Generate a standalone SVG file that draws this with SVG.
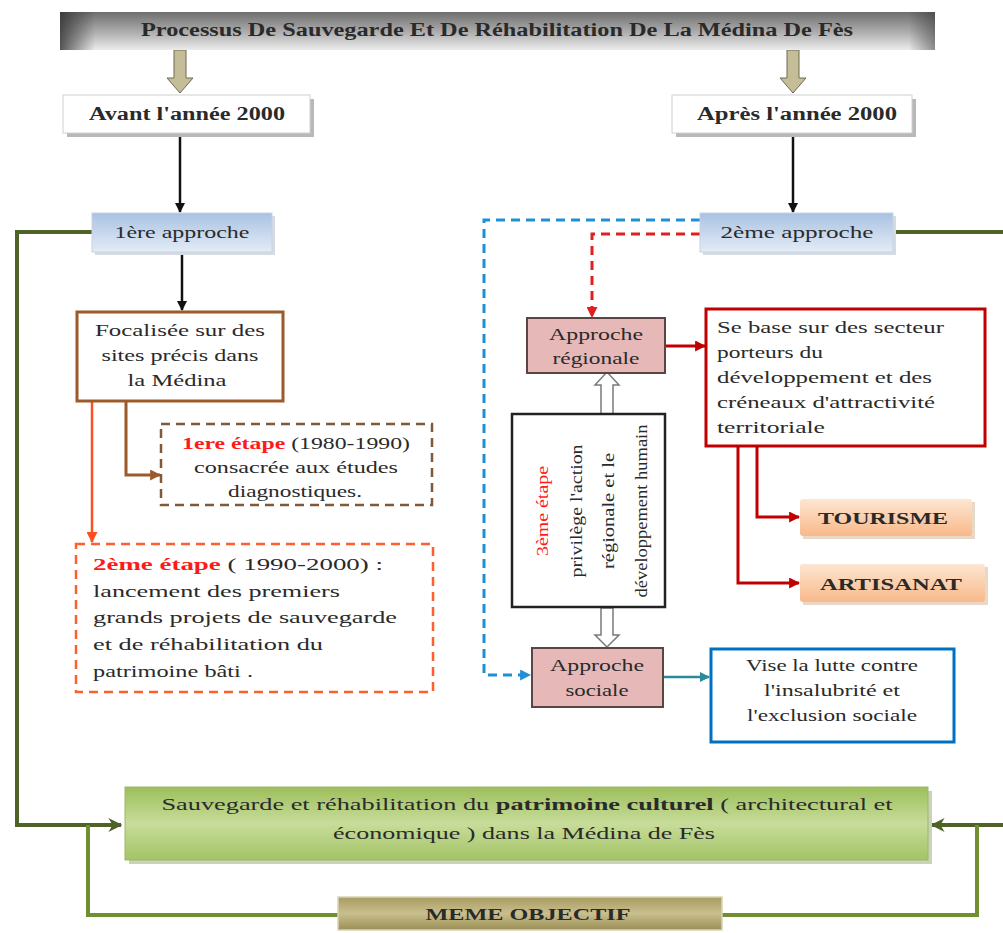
<svg xmlns="http://www.w3.org/2000/svg" width="1003" height="933" viewBox="0 0 1003 933">
<defs>
<style>
text{font-family:"Liberation Serif","Times New Roman",serif;fill:#2a2a2a;}
.b{font-weight:bold;}
.t16{font-size:17px;}
.red{fill:#ff1a1a;font-weight:bold;}
.conn{fill:none;}
</style>
<linearGradient id="gTitle" x1="0" y1="0" x2="0" y2="1">
<stop offset="0" stop-color="#6e6e6e"/><stop offset="0.55" stop-color="#b0b0b0"/><stop offset="1" stop-color="#ececec"/>
</linearGradient>
<linearGradient id="gTitleL" x1="0" y1="0" x2="1" y2="0">
<stop offset="0" stop-color="#303030" stop-opacity="0.8"/><stop offset="0.04" stop-color="#303030" stop-opacity="0"/><stop offset="0.97" stop-color="#303030" stop-opacity="0"/><stop offset="1" stop-color="#303030" stop-opacity="0.5"/>
</linearGradient>
<linearGradient id="gBlue" x1="0" y1="0" x2="0" y2="1">
<stop offset="0" stop-color="#a9c2e2"/><stop offset="1" stop-color="#e4ecf6"/>
</linearGradient>
<linearGradient id="gOrange" x1="0" y1="0" x2="0" y2="1">
<stop offset="0" stop-color="#fde6d2"/><stop offset="1" stop-color="#f8b98a"/>
</linearGradient>
<linearGradient id="gGreen" x1="0" y1="0" x2="0" y2="1">
<stop offset="0" stop-color="#9dbf5c"/><stop offset="0.5" stop-color="#c7dc9a"/><stop offset="1" stop-color="#a3c466"/>
</linearGradient>
<linearGradient id="gOlive" x1="0" y1="0" x2="0" y2="1">
<stop offset="0" stop-color="#a89c62"/><stop offset="0.5" stop-color="#c9bf8e"/><stop offset="1" stop-color="#9b8f55"/>
</linearGradient>
<marker id="aBlack" viewBox="0 0 10 10" refX="9" refY="5" markerWidth="10" markerHeight="10" markerUnits="userSpaceOnUse" orient="auto"><path d="M0,0 L10,5 L0,10 z" fill="#111"/></marker>
<marker id="aBrown" viewBox="0 0 10 10" refX="9" refY="5" markerWidth="11" markerHeight="11" markerUnits="userSpaceOnUse" orient="auto"><path d="M0,0 L10,5 L0,10 z" fill="#9c5a2a"/></marker>
<marker id="aOrange" viewBox="0 0 10 10" refX="9" refY="5" markerWidth="11" markerHeight="11" markerUnits="userSpaceOnUse" orient="auto"><path d="M0,0 L10,5 L0,10 z" fill="#ff4f1f"/></marker>
<marker id="aRed" viewBox="0 0 10 10" refX="9" refY="5" markerWidth="11" markerHeight="11" markerUnits="userSpaceOnUse" orient="auto"><path d="M0,0 L10,5 L0,10 z" fill="#c00000"/></marker>
<marker id="aRedD" viewBox="0 0 10 10" refX="9" refY="5" markerWidth="11" markerHeight="11" markerUnits="userSpaceOnUse" orient="auto"><path d="M0,0 L10,5 L0,10 z" fill="#e02020"/></marker>
<marker id="aBlueD" viewBox="0 0 10 10" refX="9" refY="5" markerWidth="11" markerHeight="11" markerUnits="userSpaceOnUse" orient="auto"><path d="M0,0 L10,5 L0,10 z" fill="#1f8fd8"/></marker>
<marker id="aTeal" viewBox="0 0 10 10" refX="9" refY="5" markerWidth="10" markerHeight="10" markerUnits="userSpaceOnUse" orient="auto"><path d="M0,0 L10,5 L0,10 z" fill="#2a8a9a"/></marker>
<marker id="aGreen" viewBox="0 0 10 10" refX="9" refY="5" markerWidth="14" markerHeight="14" markerUnits="userSpaceOnUse" orient="auto"><path d="M0,0 L10,5 L0,10 L3,5 z" fill="#4f6228"/></marker>
</defs>
<rect width="1003" height="933" fill="#ffffff"/>

<!-- connectors -->
<g id="connectors">
<polygon points="174,50 186,50 186,78 193,78 180,93 167,78 174,78" fill="#c4bd97" stroke="#6e6a55" stroke-width="1"/>
<polygon points="787,50 799,50 799,78 806,78 793,93 780,78 787,78" fill="#c4bd97" stroke="#6e6a55" stroke-width="1"/>
<line x1="180" y1="134" x2="180" y2="212" stroke="#111" stroke-width="2.5" marker-end="url(#aBlack)"/>
<line x1="793" y1="134" x2="793" y2="212" stroke="#111" stroke-width="2.5" marker-end="url(#aBlack)"/>
<line x1="182" y1="253" x2="182" y2="310" stroke="#111" stroke-width="2.5" marker-end="url(#aBlack)"/>
<polyline class="conn" points="126,402 126,475 160,475" stroke="#9c5a2a" stroke-width="3" marker-end="url(#aBrown)"/>
<polyline class="conn" points="92,402 92,542" stroke="#ff4f1f" stroke-width="2.5" marker-end="url(#aOrange)"/>
<polyline class="conn" points="92,232 17,232 17,825 121,825" stroke="#4f6228" stroke-width="4" marker-end="url(#aGreen)"/>
<polyline class="conn" points="894,232 1003,232" stroke="#4f6228" stroke-width="4"/>
<polyline class="conn" points="1003,825 932,825" stroke="#4f6228" stroke-width="4" marker-end="url(#aGreen)"/>
<polyline class="conn" points="88,825 88,915 338,915" stroke="#6f8f30" stroke-width="4"/>
<polyline class="conn" points="722,915 977,915 977,825" stroke="#6f8f30" stroke-width="4"/>
<polyline class="conn" points="700,220 484,220 484,675 530,675" stroke="#1f8fd8" stroke-width="3" stroke-dasharray="9,6" marker-end="url(#aBlueD)"/>
<polyline class="conn" points="700,234 592,234 592,317" stroke="#e02020" stroke-width="3" stroke-dasharray="9,6" marker-end="url(#aRedD)"/>
<line x1="665" y1="346" x2="705" y2="346" stroke="#c00000" stroke-width="3" marker-end="url(#aRed)"/>
<polyline class="conn" points="757,447 757,517 799,517" stroke="#c00000" stroke-width="3" marker-end="url(#aRed)"/>
<polyline class="conn" points="738,447 738,583 799,583" stroke="#c00000" stroke-width="3" marker-end="url(#aRed)"/>
<line x1="663" y1="677" x2="709" y2="677" stroke="#2a8a9a" stroke-width="2.5" marker-end="url(#aTeal)"/>
<polygon points="601,414 613,414 613,385 619,385 607,372 595,385 601,385" fill="#ffffff" stroke="#7a7a7a" stroke-width="1.5"/>
<polygon points="601,608 613,608 613,635 619,635 607,647 595,635 601,635" fill="#ffffff" stroke="#7a7a7a" stroke-width="1.5"/>
</g>

<!-- title -->
<g id="title">
<rect x="60" y="12" width="875" height="38" fill="url(#gTitle)"/>
<rect x="60" y="12" width="875" height="38" fill="url(#gTitleL)"/>
<text x="497" y="36" text-anchor="middle" class="b" font-size="18" textLength="712" lengthAdjust="spacingAndGlyphs">Processus De Sauvegarde Et De Réhabilitation De La Médina De Fès</text>
</g>

<g id="avant">
<rect x="67" y="99" width="247" height="38" fill="#b8b8b8"/>
<rect x="63" y="95" width="247" height="38" fill="#ffffff" stroke="#d0d0d0" stroke-width="1"/>
<text x="187" y="120" text-anchor="middle" class="b" font-size="18" textLength="196" lengthAdjust="spacingAndGlyphs">Avant l'année 2000</text>
</g>
<g id="apres">
<rect x="676" y="99" width="240" height="38" fill="#b8b8b8"/>
<rect x="672" y="95" width="240" height="38" fill="#ffffff" stroke="#d0d0d0" stroke-width="1"/>
<text x="797" y="120" text-anchor="middle" class="b" font-size="18" textLength="200" lengthAdjust="spacingAndGlyphs">Après  l'année 2000</text>
</g>

<g id="approche1">
<rect x="95" y="216" width="180" height="39" fill="#d6dbe2"/>
<rect x="92" y="213" width="180" height="39" fill="url(#gBlue)" stroke="#c5d3e6" stroke-width="1"/>
<text x="182" y="238" text-anchor="middle" font-size="17" textLength="135" lengthAdjust="spacingAndGlyphs">1ère approche</text>
</g>
<g id="approche2">
<rect x="703" y="216" width="193" height="39" fill="#d6dbe2"/>
<rect x="700" y="213" width="193" height="39" fill="url(#gBlue)" stroke="#c5d3e6" stroke-width="1"/>
<text x="797" y="238" text-anchor="middle" font-size="17" textLength="153" lengthAdjust="spacingAndGlyphs">2ème  approche</text>
</g>

<g id="focalisee">
<rect x="77" y="312" width="206" height="89" fill="#ffffff" stroke="#9c5a2a" stroke-width="3"/>
<text x="180" y="336" text-anchor="middle" class="t16" textLength="170" lengthAdjust="spacingAndGlyphs">Focalisée sur des</text>
<text x="180" y="361" text-anchor="middle" class="t16" textLength="157" lengthAdjust="spacingAndGlyphs">sites précis dans</text>
<text x="177" y="386" text-anchor="middle" class="t16" textLength="99" lengthAdjust="spacingAndGlyphs">la Médina</text>
</g>

<g id="etape1">
<rect x="161" y="424" width="271" height="81" fill="#ffffff" stroke="#7f5a3a" stroke-width="2.5" stroke-dasharray="9,6"/>
<text x="296" y="449" text-anchor="middle" class="t16" textLength="228" lengthAdjust="spacingAndGlyphs"><tspan class="red">1ere étape</tspan> (1980-1990)</text>
<text x="296" y="473" text-anchor="middle" class="t16" textLength="204" lengthAdjust="spacingAndGlyphs">consacrée aux études</text>
<text x="295" y="497" text-anchor="middle" class="t16" textLength="134" lengthAdjust="spacingAndGlyphs">diagnostiques.</text>
</g>

<g id="etape2">
<rect x="76" y="544" width="357" height="148" fill="#ffffff" stroke="#ff5f2e" stroke-width="2.5" stroke-dasharray="9,6"/>
<text x="93" y="570" class="t16" textLength="290" lengthAdjust="spacingAndGlyphs"><tspan class="red">2ème étape</tspan>  ( 1990-2000) :</text>
<text x="93" y="597" class="t16" textLength="247" lengthAdjust="spacingAndGlyphs">lancement des premiers</text>
<text x="93" y="623" class="t16" textLength="304" lengthAdjust="spacingAndGlyphs">grands projets de sauvegarde</text>
<text x="93" y="650" class="t16" textLength="230" lengthAdjust="spacingAndGlyphs">et de réhabilitation du</text>
<text x="93" y="677" class="t16" textLength="160" lengthAdjust="spacingAndGlyphs">patrimoine bâti .</text>
</g>

<g id="approche-regionale">
<rect x="527" y="318" width="138" height="55" fill="#e6b9b8" stroke="#5a4444" stroke-width="2"/>
<text x="596" y="340" text-anchor="middle" class="t16" textLength="94" lengthAdjust="spacingAndGlyphs">Approche</text>
<text x="596" y="364" text-anchor="middle" class="t16" textLength="87" lengthAdjust="spacingAndGlyphs">régionale</text>
</g>

<g id="se-base">
<rect x="706" y="309" width="279" height="137" fill="#ffffff" stroke="#c00000" stroke-width="3"/>
<text x="717" y="333" class="t16" textLength="227" lengthAdjust="spacingAndGlyphs">Se base sur des secteur</text>
<text x="717" y="358" class="t16" textLength="106" lengthAdjust="spacingAndGlyphs">porteurs du</text>
<text x="717" y="383" class="t16" textLength="215" lengthAdjust="spacingAndGlyphs">développement et des</text>
<text x="717" y="408" class="t16" textLength="218" lengthAdjust="spacingAndGlyphs">créneaux d'attractivité</text>
<text x="717" y="433" class="t16" textLength="108" lengthAdjust="spacingAndGlyphs">territoriale</text>
</g>

<g id="etape3">
<rect x="512" y="414" width="153" height="193" fill="#ffffff" stroke="#222" stroke-width="2.5"/>
<g transform="translate(0,511) rotate(-90)">
<text x="0" y="548" text-anchor="middle" font-size="16" class="red" style="font-weight:normal" textLength="90" lengthAdjust="spacingAndGlyphs">3ème étape</text>
<text x="0" y="582" text-anchor="middle" font-size="16" textLength="133" lengthAdjust="spacingAndGlyphs">privilège l'action</text>
<text x="0" y="614" text-anchor="middle" font-size="16" textLength="116" lengthAdjust="spacingAndGlyphs">régionale et le</text>
<text x="0" y="647" text-anchor="middle" font-size="16" textLength="173" lengthAdjust="spacingAndGlyphs">développement humain</text>
</g>
</g>

<g id="tourisme">
<rect x="803" y="502" width="172" height="37" fill="#e8d8c8"/>
<rect x="800" y="499" width="172" height="37" rx="3" fill="url(#gOrange)"/>
<text x="883" y="524" text-anchor="middle" class="b" font-size="17" textLength="130" lengthAdjust="spacingAndGlyphs">TOURISME</text>
</g>
<g id="artisanat">
<rect x="803" y="567" width="185" height="38" fill="#e8d8c8"/>
<rect x="800" y="564" width="185" height="38" rx="3" fill="url(#gOrange)"/>
<text x="891" y="590" text-anchor="middle" class="b" font-size="17" textLength="142" lengthAdjust="spacingAndGlyphs">ARTISANAT</text>
</g>

<g id="approche-sociale">
<rect x="532" y="648" width="131" height="59" fill="#e6b9b8" stroke="#5a4444" stroke-width="2"/>
<text x="597" y="671" text-anchor="middle" class="t16" textLength="94" lengthAdjust="spacingAndGlyphs">Approche</text>
<text x="597" y="696" text-anchor="middle" class="t16" textLength="63" lengthAdjust="spacingAndGlyphs">sociale</text>
</g>

<g id="vise">
<rect x="711" y="649" width="243" height="93" fill="#ffffff" stroke="#0070c0" stroke-width="3"/>
<text x="832" y="671" text-anchor="middle" class="t16" textLength="172" lengthAdjust="spacingAndGlyphs">Vise la lutte contre</text>
<text x="832" y="696" text-anchor="middle" class="t16" textLength="136" lengthAdjust="spacingAndGlyphs">l'insalubrité et</text>
<text x="832" y="721" text-anchor="middle" class="t16" textLength="170" lengthAdjust="spacingAndGlyphs">l'exclusion sociale</text>
</g>

<g id="objectif">
<rect x="129" y="791" width="803" height="73" fill="#c9d3b8"/>
<rect x="125" y="787" width="803" height="73" fill="url(#gGreen)" stroke="#9bb86a" stroke-width="1"/>
<text x="527" y="810" text-anchor="middle" font-size="17" textLength="731" lengthAdjust="spacingAndGlyphs">Sauvegarde et réhabilitation du <tspan font-weight="bold">patrimoine culturel</tspan> ( architectural et</text>
<text x="524" y="839" text-anchor="middle" font-size="17" textLength="382" lengthAdjust="spacingAndGlyphs">économique ) dans la Médina de Fès</text>
</g>

<g id="meme">
<rect x="338" y="897" width="384" height="33" fill="url(#gOlive)" stroke="#d8d3b8" stroke-width="1.5"/>
<text x="528" y="920" text-anchor="middle" class="b" font-size="17" textLength="205" lengthAdjust="spacingAndGlyphs">MEME OBJECTIF</text>
</g>
</svg>
